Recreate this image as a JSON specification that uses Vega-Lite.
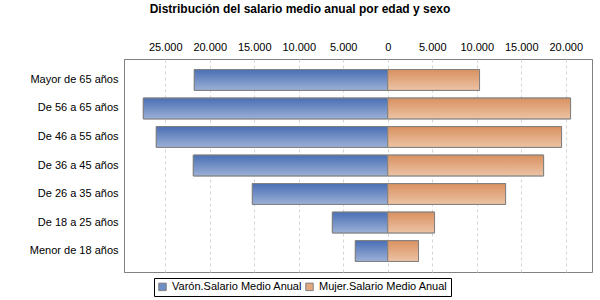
{
  "$schema": "https://vega.github.io/schema/vega-lite/v6.json",
  "width": 468,
  "height": 213,
  "autosize": {"type": "none"},
  "padding": {"left": 124, "top": 59, "right": 8, "bottom": 28},
  "background": "white",
  "title": {
    "text": "Distribución del salario medio anual por edad y sexo",
    "font": "Liberation Sans",
    "fontSize": 12,
    "fontWeight": "bold",
    "color": "black",
    "anchor": "middle",
    "dx": -58,
    "offset": 25
  },
  "config": {
    "locale": {"number": {"decimal": ",", "thousands": ".", "grouping": [3], "currency": ["", " €"]}},
    "view": {"stroke": "#808080", "strokeWidth": 1},
    "font": "Liberation Sans"
  },
  "data": {
    "values": [
      {"edad": "Mayor de 65 años", "serie": "Varón.Salario Medio Anual", "valor": -21730},
      {"edad": "De 56 a 65 años", "serie": "Varón.Salario Medio Anual", "valor": -27460},
      {"edad": "De 46 a 55 años", "serie": "Varón.Salario Medio Anual", "valor": -26000},
      {"edad": "De 36 a 45 años", "serie": "Varón.Salario Medio Anual", "valor": -21840},
      {"edad": "De 26 a 35 años", "serie": "Varón.Salario Medio Anual", "valor": -15210},
      {"edad": "De 18 a 25 años", "serie": "Varón.Salario Medio Anual", "valor": -6220},
      {"edad": "Menor de 18 años", "serie": "Varón.Salario Medio Anual", "valor": -3640},
      {"edad": "Mayor de 65 años", "serie": "Mujer.Salario Medio Anual", "valor": 10315},
      {"edad": "De 56 a 65 años", "serie": "Mujer.Salario Medio Anual", "valor": 20540},
      {"edad": "De 46 a 55 años", "serie": "Mujer.Salario Medio Anual", "valor": 19530},
      {"edad": "De 36 a 45 años", "serie": "Mujer.Salario Medio Anual", "valor": 17510},
      {"edad": "De 26 a 35 años", "serie": "Mujer.Salario Medio Anual", "valor": 13240},
      {"edad": "De 18 a 25 años", "serie": "Mujer.Salario Medio Anual", "valor": 5260},
      {"edad": "Menor de 18 años", "serie": "Mujer.Salario Medio Anual", "valor": 3460}
    ]
  },
  "encoding": {
    "y": {
      "field": "edad",
      "type": "nominal",
      "sort": ["Mayor de 65 años", "De 56 a 65 años", "De 46 a 55 años", "De 36 a 45 años", "De 26 a 35 años", "De 18 a 25 años", "Menor de 18 años"],
      "scale": {"paddingInner": 0.27, "paddingOuter": 0.37},
      "axis": {
        "title": null,
        "ticks": false,
        "domain": true,
        "domainColor": "#808080",
        "labelFontSize": 11,
        "labelColor": "black",
        "labelPadding": 6,
        "grid": false
      }
    },
    "x": {
      "field": "valor",
      "type": "quantitative",
      "scale": {"domain": [-29630, 22950], "nice": false},
      "axis": {
        "orient": "top",
        "title": null,
        "values": [-25000, -20000, -15000, -10000, -5000, 0, 5000, 10000, 15000, 20000],
        "labelExpr": "format(abs(datum.value), ',')",
        "ticks": false,
        "domain": false,
        "grid": true,
        "gridColor": "#d4d4d4",
        "gridDash": [3, 3],
        "labelFontSize": 11,
        "labelColor": "black",
        "labelPadding": 7
      }
    }
  },
  "layer": [
    {
      "mark": {"type": "bar", "stroke": "#808080", "strokeWidth": 1},
      "encoding": {
        "color": {
          "field": "serie",
          "type": "nominal",
          "scale": {"domain": ["Varón.Salario Medio Anual", "Mujer.Salario Medio Anual"], "range": ["#6f8ec6", "#e3a880"]},
          "legend": {
            "title": null,
            "orient": "none",
            "direction": "horizontal",
            "legendX": 30,
            "legendY": 219,
            "strokeColor": "black",
            "padding": 3,
            "symbolType": "square",
            "symbolSize": 56,
            "symbolStrokeColor": "#808080",
            "symbolStrokeWidth": 1,
            "symbolOpacity": 1,
            "labelFontSize": 11,
            "labelColor": "black",
            "labelOffset": 4,
            "columnPadding": 0,
            "labelLimit": 300
          }
        }
      }
    },
    {
      "transform": [{"filter": "datum.serie == 'Varón.Salario Medio Anual'"}],
      "mark": {
        "type": "bar",
        "stroke": "#808080",
        "strokeWidth": 1,
        "color": {
          "gradient": "linear", "x1": 0, "y1": 0, "x2": 0, "y2": 1,
          "stops": [{"offset": 0, "color": "#4a6fb5"}, {"offset": 1, "color": "#9bb0d6"}]
        }
      }
    },
    {
      "transform": [{"filter": "datum.serie == 'Mujer.Salario Medio Anual'"}],
      "mark": {
        "type": "bar",
        "stroke": "#808080",
        "strokeWidth": 1,
        "color": {
          "gradient": "linear", "x1": 0, "y1": 0, "x2": 0, "y2": 1,
          "stops": [{"offset": 0, "color": "#d99160"}, {"offset": 1, "color": "#ecc3a5"}]
        }
      }
    }
  ]
}
